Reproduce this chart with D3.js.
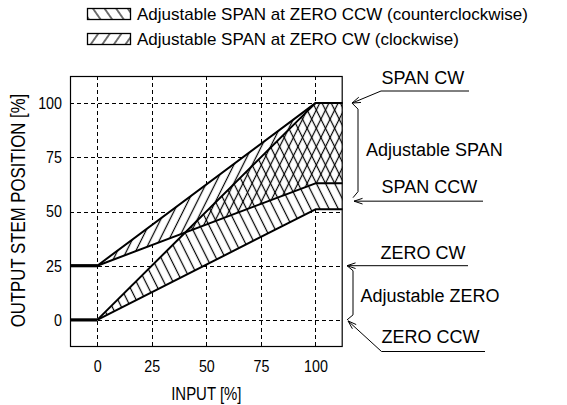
<!DOCTYPE html>
<html><head><meta charset="utf-8">
<script src="https://cdn.jsdelivr.net/npm/d3@7"></script>
<style>body{margin:0;background:#fff}</style>
</head><body>
<svg id="c" width="567" height="405"></svg>
<script>
// ---- data ----
const xTicks = [0, 25, 50, 75, 100];
const yTicks = [0, 25, 50, 75, 100];
const inputPts = [-12.5, 0, 100, 112.5];
const zeroCcwSpanCw  = [0, 0, 100, 100];
const zeroCcwSpanCcw = [0, 0, 51, 51];
const zeroCwSpanCw   = [25, 25, 100, 100];
const zeroCwSpanCcw  = [25, 25, 63, 63];
const legendLabels = ["Adjustable SPAN at ZERO CCW (counterclockwise)", "Adjustable SPAN at ZERO CW (clockwise)"];
const xTitle = "INPUT [%]";
const yTitle = "OUTPUT STEM POSITION [%]";
const annoLabels = ["SPAN CW", "Adjustable SPAN", "SPAN CCW", "ZERO CW", "Adjustable ZERO", "ZERO CCW"];

// ---- setup ----
const svg = d3.select("#c");
const L = 70, R = 342.7, T = 76, B = 347;
const x = d3.scaleLinear().domain([-12.5, 112.5]).range([L, R]);
const y = d3.scaleLinear().domain([-12.5, 112.5]).range([B, T]);
const font = "'Liberation Sans',Arial,Helvetica,sans-serif";
function condense(sel, f) {
  sel.each(function () {
    const w = this.getComputedTextLength();
    d3.select(this).attr("textLength", w * f).attr("lengthAdjust", "spacingAndGlyphs");
  });
}

const defs = svg.append("defs");
function hatch(id, angle, sp, sw) {
  const p = defs.append("pattern").attr("id", id).attr("patternUnits", "userSpaceOnUse")
    .attr("width", sp).attr("height", 20).attr("patternTransform", `rotate(${angle})`);
  p.append("line").attr("x1", sp/2).attr("x2", sp/2).attr("y1", 0).attr("y2", 20)
    .attr("stroke", "#000").attr("stroke-width", sw);
}
hatch("hCW", 26.57, 8.2, 1.2);
hatch("hCCW", -26.57, 8.2, 1.2);
hatch("lCW", 35, 9.5, 1.1);
hatch("lCCW", -35, 9.5, 1.1);
defs.append("clipPath").attr("id", "plotClip").append("rect")
  .attr("x", L).attr("y", T).attr("width", R - L).attr("height", B - T);

// ---- grid ----
const grid = svg.append("g").attr("stroke", "#000").attr("stroke-width", 1).attr("stroke-dasharray", "4,3");
grid.selectAll(".gx").data(xTicks).join("line")
  .attr("x1", d => Math.round(x(d)) + 0.5).attr("x2", d => Math.round(x(d)) + 0.5).attr("y1", T).attr("y2", B);
grid.selectAll(".gy").data(yTicks).join("line")
  .attr("y1", d => Math.round(y(d)) + 0.5).attr("y2", d => Math.round(y(d)) + 0.5).attr("x1", L).attr("x2", R);

// ---- regions ----
const idx = [1, 2, 3];
const area = (top, bot) => d3.area().x(i => x(inputPts[i])).y0(i => y(bot[i])).y1(i => y(top[i]))(idx);
const plot = svg.append("g").attr("clip-path", "url(#plotClip)");
plot.append("path").attr("d", area(zeroCcwSpanCw, zeroCcwSpanCcw)).attr("fill", "#fff");
plot.append("path").attr("d", area(zeroCwSpanCw, zeroCwSpanCcw)).attr("fill", "#fff");
plot.append("path").attr("d", area(zeroCcwSpanCw, zeroCcwSpanCcw)).attr("fill", "url(#hCCW)");
plot.append("path").attr("d", area(zeroCwSpanCw, zeroCwSpanCcw)).attr("fill", "url(#hCW)");

const line = arr => d3.line().x(i => x(inputPts[i])).y(i => y(arr[i]))(idx);
[zeroCcwSpanCw, zeroCcwSpanCcw, zeroCwSpanCw, zeroCwSpanCcw].forEach(s => {
  plot.append("path").attr("d", line(s)).attr("fill", "none").attr("stroke", "#000")
    .attr("stroke-width", 2).attr("stroke-linejoin", "round");
});
[zeroCcwSpanCw, zeroCwSpanCw].forEach(s => {
  plot.append("path").attr("d", d3.line().x(i => x(inputPts[i])).y(i => y(s[i]))([0, 1]))
    .attr("fill", "none").attr("stroke", "#000").attr("stroke-width", 3.2);
});

// ---- frame ----
svg.append("rect").attr("x", L + 0.5).attr("y", T + 0.5).attr("width", R - L - 1).attr("height", B - T - 1)
  .attr("fill", "none").attr("stroke", "#000").attr("stroke-width", 1.2);

// ---- axes ----
const ax = svg.append("g").attr("transform", `translate(0,${B})`)
  .call(d3.axisBottom(x).tickValues(xTicks).tickSize(0).tickPadding(13));
const ay = svg.append("g").attr("transform", `translate(${L},0)`)
  .call(d3.axisLeft(y).tickValues(yTicks).tickSize(0).tickPadding(8));
[ax, ay].forEach(a => {
  a.select(".domain").remove();
  a.selectAll("text").attr("font-family", font).attr("font-size", 17).attr("fill", "#000");
  condense(a.selectAll("text"), 0.84);
});
const xt = svg.append("text").attr("x", x(50)).attr("y", 400).attr("text-anchor", "middle")
  .attr("font-family", font).attr("font-size", 18).text(xTitle);
condense(xt, 0.83);
const yt = svg.append("text").attr("transform", `translate(25,${(T + B) / 2 - 1}) rotate(-90)`).attr("text-anchor", "middle")
  .attr("font-family", font).attr("font-size", 19.5).text(yTitle);
condense(yt, 0.86);

// ---- legend ----
const lg = svg.append("g");
legendLabels.forEach((t, i) => {
  const yy = 8 + i * 25;
  lg.append("rect").attr("x", 87.5).attr("y", yy + 0.5).attr("width", 43).attr("height", 11)
    .attr("fill", i === 0 ? "url(#lCCW)" : "url(#lCW)").attr("stroke", "#000").attr("stroke-width", 1.3);
  lg.append("text").attr("x", 137).attr("y", yy + 12).attr("font-family", font).attr("font-size", 17).text(t);
});

// ---- annotations ----
const an = svg.append("g").attr("stroke", "#000").attr("fill", "none").attr("stroke-width", 1);
function arrow(pts) {
  an.append("path").attr("d", d3.line()(pts));
  const [tx, ty] = pts[pts.length - 1], [fx, fy] = pts[pts.length - 2];
  const a = Math.atan2(fy - ty, fx - tx), len = 9, w = 0.32;
  an.append("path").attr("d", d3.line()([[tx + len * Math.cos(a + w), ty + len * Math.sin(a + w)], [tx, ty],
    [tx + len * Math.cos(a - w), ty + len * Math.sin(a - w)]]));
}
const spanTop = y(100), spanBot = y(55), zTop = y(25), zBot = y(0);
arrow([[469, 91], [381, 91], [352, spanTop]]);
an.append("path").attr("d", d3.line()([[352, spanTop], [358, spanTop + 6], [358, spanBot - 9], [353, spanBot - 3]]));
arrow([[483, spanBot + 0.5], [354, spanBot + 0.5]]);
arrow([[468, zTop], [347, zTop]]);
an.append("path").attr("d", d3.line()([[347, zTop], [353, zTop + 5], [353, zBot - 5], [347, zBot]]));
arrow([[485, 351.5], [381.5, 351.5], [348, zBot + 1]]);

const at = svg.append("g").attr("font-family", font).attr("font-size", 18);
const annoPos = [[381.5, 83.5], [366, 155.5], [381.5, 192.5], [380.5, 259], [360.5, 301.5], [381.5, 343]];
annoLabels.forEach((t, i) => at.append("text").attr("x", annoPos[i][0]).attr("y", annoPos[i][1]).text(t));
</script>
</body></html>
